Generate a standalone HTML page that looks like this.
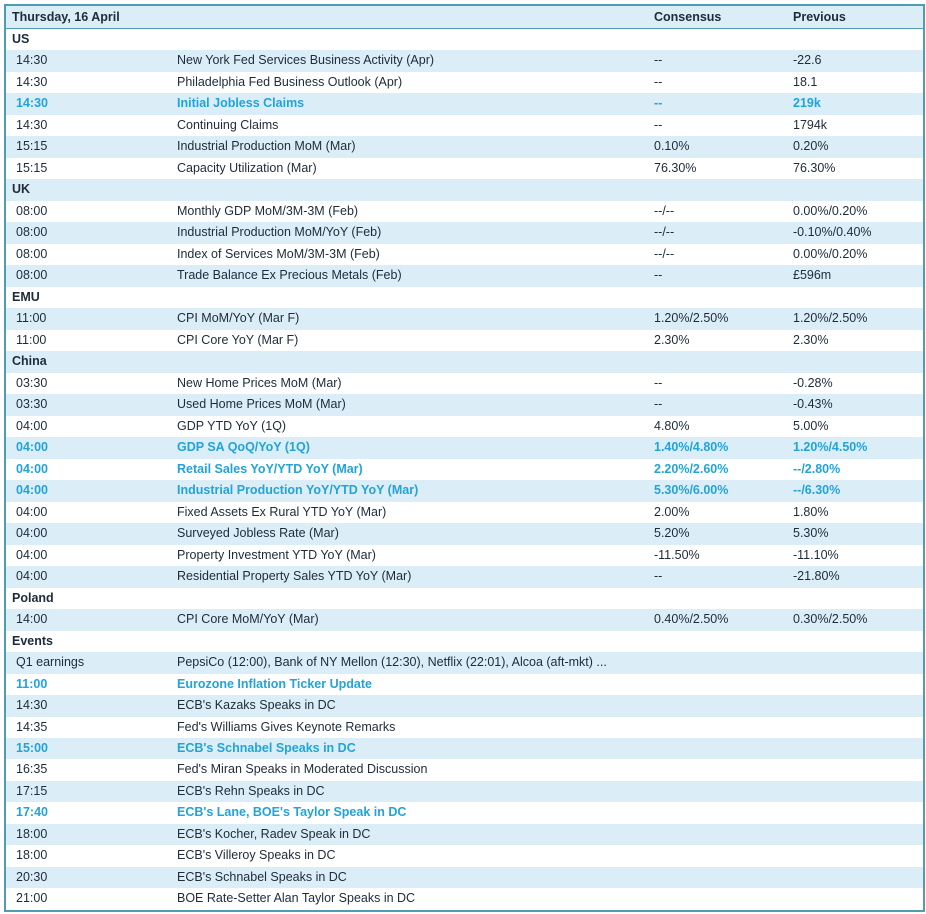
<!DOCTYPE html>
<html><head><style>
body{margin:0;width:926px;height:914px;background:#fff;font-family:"Liberation Sans",sans-serif;font-size:12.5px;color:#1d2b3a;overflow:hidden}
#t{position:absolute;left:4px;top:4px;width:917px;height:904px;border:2px solid #4f9db3;box-sizing:content-box}
.r{position:relative;height:21.49px;line-height:21.49px;white-space:nowrap}
.r:nth-child(odd){background:#dbeef8}
.h{height:22px;line-height:22px;background:#dbeef8!important;border-bottom:1.5px solid #4f9db3;font-weight:bold}
.r span{position:absolute}
.a{left:10px}.b{left:171px}.c{left:648px}.d{left:787px}
.g{font-weight:bold;padding-left:6px}
.hl{color:#22a3d9;font-weight:bold}
</style></head><body><div id="t">
<div class="r h"><span class="g" style="left:0">Thursday, 16 April</span><span class="c">Consensus</span><span class="d">Previous</span></div>
<div class="r"><span class="g">US</span></div>
<div class="r"><span class="a">14:30</span><span class="b">New York Fed Services Business Activity (Apr)</span><span class="c">--</span><span class="d">-22.6</span></div>
<div class="r"><span class="a">14:30</span><span class="b">Philadelphia Fed Business Outlook (Apr)</span><span class="c">--</span><span class="d">18.1</span></div>
<div class="r hl"><span class="a">14:30</span><span class="b">Initial Jobless Claims</span><span class="c">--</span><span class="d">219k</span></div>
<div class="r"><span class="a">14:30</span><span class="b">Continuing Claims</span><span class="c">--</span><span class="d">1794k</span></div>
<div class="r"><span class="a">15:15</span><span class="b">Industrial Production MoM (Mar)</span><span class="c">0.10%</span><span class="d">0.20%</span></div>
<div class="r"><span class="a">15:15</span><span class="b">Capacity Utilization (Mar)</span><span class="c">76.30%</span><span class="d">76.30%</span></div>
<div class="r"><span class="g">UK</span></div>
<div class="r"><span class="a">08:00</span><span class="b">Monthly GDP MoM/3M-3M (Feb)</span><span class="c">--/--</span><span class="d">0.00%/0.20%</span></div>
<div class="r"><span class="a">08:00</span><span class="b">Industrial Production MoM/YoY (Feb)</span><span class="c">--/--</span><span class="d">-0.10%/0.40%</span></div>
<div class="r"><span class="a">08:00</span><span class="b">Index of Services MoM/3M-3M (Feb)</span><span class="c">--/--</span><span class="d">0.00%/0.20%</span></div>
<div class="r"><span class="a">08:00</span><span class="b">Trade Balance Ex Precious Metals (Feb)</span><span class="c">--</span><span class="d">£596m</span></div>
<div class="r"><span class="g">EMU</span></div>
<div class="r"><span class="a">11:00</span><span class="b">CPI MoM/YoY (Mar F)</span><span class="c">1.20%/2.50%</span><span class="d">1.20%/2.50%</span></div>
<div class="r"><span class="a">11:00</span><span class="b">CPI Core YoY (Mar F)</span><span class="c">2.30%</span><span class="d">2.30%</span></div>
<div class="r"><span class="g">China</span></div>
<div class="r"><span class="a">03:30</span><span class="b">New Home Prices MoM (Mar)</span><span class="c">--</span><span class="d">-0.28%</span></div>
<div class="r"><span class="a">03:30</span><span class="b">Used Home Prices MoM (Mar)</span><span class="c">--</span><span class="d">-0.43%</span></div>
<div class="r"><span class="a">04:00</span><span class="b">GDP YTD YoY (1Q)</span><span class="c">4.80%</span><span class="d">5.00%</span></div>
<div class="r hl"><span class="a">04:00</span><span class="b">GDP SA QoQ/YoY (1Q)</span><span class="c">1.40%/4.80%</span><span class="d">1.20%/4.50%</span></div>
<div class="r hl"><span class="a">04:00</span><span class="b">Retail Sales YoY/YTD YoY (Mar)</span><span class="c">2.20%/2.60%</span><span class="d">--/2.80%</span></div>
<div class="r hl"><span class="a">04:00</span><span class="b">Industrial Production YoY/YTD YoY (Mar)</span><span class="c">5.30%/6.00%</span><span class="d">--/6.30%</span></div>
<div class="r"><span class="a">04:00</span><span class="b">Fixed Assets Ex Rural YTD YoY (Mar)</span><span class="c">2.00%</span><span class="d">1.80%</span></div>
<div class="r"><span class="a">04:00</span><span class="b">Surveyed Jobless Rate (Mar)</span><span class="c">5.20%</span><span class="d">5.30%</span></div>
<div class="r"><span class="a">04:00</span><span class="b">Property Investment YTD YoY (Mar)</span><span class="c">-11.50%</span><span class="d">-11.10%</span></div>
<div class="r"><span class="a">04:00</span><span class="b">Residential Property Sales YTD YoY (Mar)</span><span class="c">--</span><span class="d">-21.80%</span></div>
<div class="r"><span class="g">Poland</span></div>
<div class="r"><span class="a">14:00</span><span class="b">CPI Core MoM/YoY (Mar)</span><span class="c">0.40%/2.50%</span><span class="d">0.30%/2.50%</span></div>
<div class="r"><span class="g">Events</span></div>
<div class="r"><span class="a">Q1 earnings</span><span class="b">PepsiCo (12:00), Bank of NY Mellon (12:30), Netflix (22:01), Alcoa (aft-mkt) ...</span></div>
<div class="r hl"><span class="a">11:00</span><span class="b">Eurozone Inflation Ticker Update</span></div>
<div class="r"><span class="a">14:30</span><span class="b">ECB's Kazaks Speaks in DC</span></div>
<div class="r"><span class="a">14:35</span><span class="b">Fed's Williams Gives Keynote Remarks</span></div>
<div class="r hl"><span class="a">15:00</span><span class="b">ECB's Schnabel Speaks in DC</span></div>
<div class="r"><span class="a">16:35</span><span class="b">Fed's Miran Speaks in Moderated Discussion</span></div>
<div class="r"><span class="a">17:15</span><span class="b">ECB's Rehn Speaks in DC</span></div>
<div class="r hl"><span class="a">17:40</span><span class="b">ECB's Lane, BOE's Taylor Speak in DC</span></div>
<div class="r"><span class="a">18:00</span><span class="b">ECB's Kocher, Radev Speak in DC</span></div>
<div class="r"><span class="a">18:00</span><span class="b">ECB's Villeroy Speaks in DC</span></div>
<div class="r"><span class="a">20:30</span><span class="b">ECB's Schnabel Speaks in DC</span></div>
<div class="r"><span class="a">21:00</span><span class="b">BOE Rate-Setter Alan Taylor Speaks in DC</span></div>
</div></body></html>
